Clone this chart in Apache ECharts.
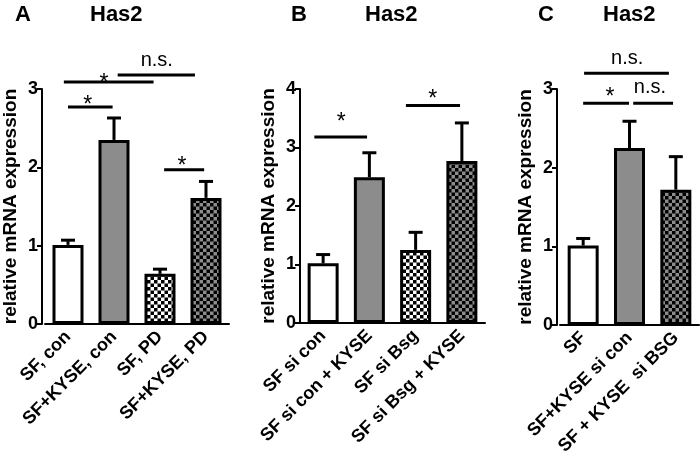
<!DOCTYPE html>
<html><head><meta charset="utf-8">
<script src="https://cdn.jsdelivr.net/npm/echarts@6/dist/echarts.min.js"></script>
<style>html,body{margin:0;padding:0;background:#fff}#c{width:700px;height:458px}</style>
</head><body><div id="c"></div>
<script>
// ---- data ----
const catsA = ['SF, con', 'SF+KYSE, con', 'SF, PD', 'SF+KYSE, PD'];
const meanA = [1.01, 2.35, 0.64, 1.61];
const semA  = [0.06, 0.28, 0.06, 0.21];
// brackets: [fromCat, toCat, yValue, labelCat, labelValue, text]
const brA = [
  [0.00, 0.97, 2.77, 0.43, 2.86, '*'],
  [-0.09, 1.86, 3.09, 0.78, 3.14, '*'],
  [1.08, 2.76, 3.18, 1.93, 3.36, 'n.s.'],
  [2.09, 2.96, 1.97, 2.48, 2.08, '*']
];
const catsB = ['SF si con', 'SF si con + KYSE', 'SF si Bsg', 'SF si Bsg + KYSE'];
const meanB = [1.02, 2.49, 1.25, 2.77];
const semB  = [0.15, 0.42, 0.30, 0.65];
const brB = [
  [-0.19, 0.95, 3.18, 0.39, 3.52, '*'],
  [1.79, 2.96, 3.72, 2.37, 3.92, '*']
];
const catsC = ['SF', 'SF+KYSE si con', 'SF + KYSE  si BSG'];
const meanC = [1.01, 2.25, 1.72];
const semC  = [0.09, 0.34, 0.42];
const brC = [
  [0.02, 1.85, 3.20, 0.95, 3.39, 'n.s.'],
  [0.00, 0.99, 2.82, 0.58, 2.96, '*'],
  [1.08, 1.94, 2.82, 1.44, 3.02, 'n.s.']
];
const yMaxA = 3, yMaxB = 4, yMaxC = 3;
const titleLetters = ['A', 'B', 'C'];
const titleText = 'Has2';
const yName = 'relative mRNA expression';

// ---- styles ----
const FONT = '"Liberation Sans", Arial, Helvetica, sans-serif';
const GREY = '#8c8c8c';
function checker(bg) {
  const c = document.createElement('canvas');
  c.width = 7; c.height = 7;
  const g = c.getContext('2d');
  g.fillStyle = bg; g.fillRect(0, 0, 7, 7);
  g.fillStyle = '#000'; g.fillRect(0, 0, 3.5, 3.5); g.fillRect(3.5, 3.5, 3.5, 3.5);
  return { image: c, repeat: 'repeat' };
}
const fillW = '#ffffff', fillG = GREY, fillCW = checker('#ffffff'), fillCG = checker(GREY);

const panels = [
  { cats: catsA, mean: meanA, sem: semA, br: brA, max: yMaxA, fills: [fillW, fillG, fillCW, fillCG],
    grid: { left: 44, top: 89, width: 185, height: 235 }, off: 3, lx: 18, tx: 112 },
  { cats: catsB, mean: meanB, sem: semB, br: brB, max: yMaxB, fills: [fillW, fillG, fillCW, fillCG],
    grid: { left: 300, top: 89, width: 185, height: 234 }, off: 0, lx: 294, tx: 387 },
  { cats: catsC, mean: meanC, sem: semC, br: brC, max: yMaxC, fills: [fillW, fillG, fillCG],
    grid: { left: 560, top: 89, width: 139, height: 236 }, off: 3, lx: 541, tx: 625 }
];

const option = { animation: false, backgroundColor: '#fff', grid: [], xAxis: [], yAxis: [], series: [], title: [] };

panels.forEach((p, i) => {
  option.grid.push(p.grid);
  option.title.push({ text: titleLetters[i], left: p.lx - 8, top: -1,
    textStyle: { fontFamily: FONT, fontWeight: 'bold', fontSize: 22, color: '#000' } });
  option.title.push({ text: titleText, left: p.tx - 27, top: -1,
    textStyle: { fontFamily: FONT, fontWeight: 'bold', fontSize: 22, color: '#000' } });
  option.xAxis.push({
    type: 'category', gridIndex: i, data: p.cats,
    axisLine: { lineStyle: { color: '#000', width: 2 } },
    axisTick: { alignWithLabel: true, length: 6, lineStyle: { color: '#000', width: 2 } },
    axisLabel: { interval: 0, rotate: 45, margin: 10, color: '#000', fontFamily: FONT, fontWeight: 'bold', fontSize: 18 }
  });
  option.yAxis.push({
    type: 'value', gridIndex: i, min: 0, max: p.max, interval: 1, offset: p.off,
    name: yName, nameLocation: 'middle', nameGap: 22,
    nameTextStyle: { fontFamily: FONT, fontWeight: 'bold', fontSize: 19, color: '#000' },
    axisLine: { show: true, lineStyle: { color: '#000', width: 2 } },
    axisTick: { show: true, length: 5, lineStyle: { color: '#000', width: 2 } },
    splitLine: { show: false },
    axisLabel: { margin: 4, color: '#000', fontFamily: FONT, fontWeight: 'bold', fontSize: 18 }
  });
  option.series.push({
    type: 'bar', xAxisIndex: i, yAxisIndex: i, barWidth: 31, z: 2,
    data: p.mean.map((v, k) => ({ value: v, itemStyle: { color: p.fills[k], borderColor: '#000', borderWidth: 3 } }))
  });
  option.series.push({
    type: 'custom', xAxisIndex: i, yAxisIndex: i, z: 1,
    data: p.mean.map((v, k) => [k, v, v + p.sem[k]]),
    renderItem: (params, api) => {
      const a = api.coord([api.value(0), api.value(1)]);
      const b = api.coord([api.value(0), api.value(2)]);
      const s = { stroke: '#000', lineWidth: 3 };
      return { type: 'group', children: [
        { type: 'line', shape: { x1: a[0], y1: a[1], x2: b[0], y2: b[1] }, style: s },
        { type: 'line', shape: { x1: b[0] - 7, y1: b[1], x2: b[0] + 7, y2: b[1] }, style: s }
      ] };
    }
  });
  option.series.push({
    type: 'custom', xAxisIndex: i, yAxisIndex: i, z: 3, clip: false,
    data: p.br.map(b => [0, b[2]]),
    renderItem: (params, api) => {
      const b = p.br[params.dataIndex];
      const c0 = api.coord([0, b[2]]), c1 = api.coord([1, b[2]]);
      const step = c1[0] - c0[0];
      const px = x => c0[0] + x * step;
      const ly = api.coord([0, b[4]])[1];
      const isStar = b[5] === '*';
      return { type: 'group', children: [
        { type: 'line', shape: { x1: px(b[0]), y1: c0[1], x2: px(b[1]), y2: c0[1] }, style: { stroke: '#000', lineWidth: 3 } },
        { type: 'text', x: px(b[3]), y: ly + (isStar ? 6 : 0),
          style: { text: b[5], fill: '#000', fontFamily: FONT, fontSize: isStar ? 23 : 20, align: 'center', verticalAlign: 'middle' } }
      ] };
    }
  });
});

const chart = echarts.init(document.getElementById('c'), null, { renderer: 'canvas' });
chart.setOption(option);
</script>
</body></html>
